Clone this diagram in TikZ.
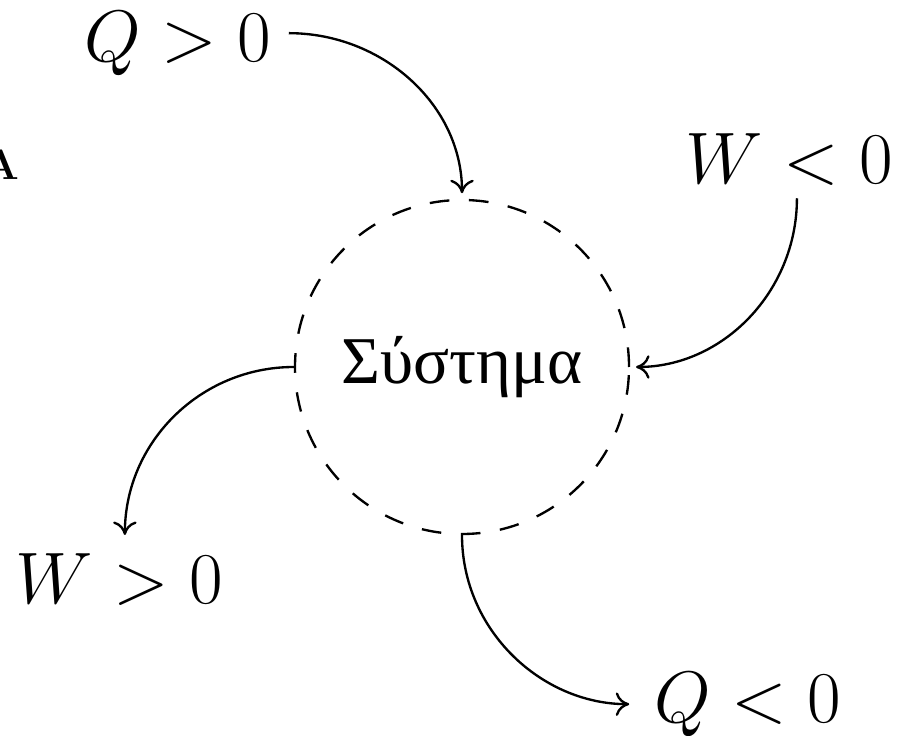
\documentclass[tikz,border=0pt]{standalone}
\usepackage{fontspec}
\newfontfamily\grk{Liberation Serif}
\usetikzlibrary{arrows.meta}
\begin{document}
\begin{tikzpicture}[x=0.341pt,y=0.341pt,
  lbl/.style={anchor=base, inner sep=6pt, font=\fontsize{24.88}{30}\selectfont},
  flow/.style={line width=0.8pt, -{Computer Modern Rightarrow[length=4.6pt,width=8pt]}},
  sysbox/.style={circle, draw, line width=0.8pt, dash pattern=on 6.7pt off 6.7pt,
    minimum size=113.9pt, inner sep=0pt, font=\grk\fontsize{22.8}{28}\selectfont}]
\useasboundingbox (0,0) rectangle (907,735);
\node[sysbox] (sys) at (462,368) {Σύστημα};
\node[lbl] (qin) at (177.5,673) {$Q>0$};
\node[lbl] (wn) at (789,551) {$W<0$};
\node[lbl] (wp) at (119,132) {$W>0$};
\node[lbl] (qout) at (747.5,13) {$Q<0$};
\node[anchor=base, inner sep=0pt, font=\fontsize{14.4}{17}\selectfont\bfseries] (lettera) at (1,555) {A};
\draw[flow, shorten >=1.9pt] ([yshift=3.75pt]qin.east) to[out=0,in=90] (sys.north);
\draw[flow, shorten >=2pt] ([xshift=2.7pt,yshift=2pt]wn.south) to[out=-90,in=0] (sys.east);
\draw[flow] (sys.west) to[out=180,in=90] ([xshift=2pt]wp.north);
\draw[flow, shorten >=2.4pt] (sys.south) to[out=-90,in=180] (qout.west);
\end{tikzpicture}
\end{document}
